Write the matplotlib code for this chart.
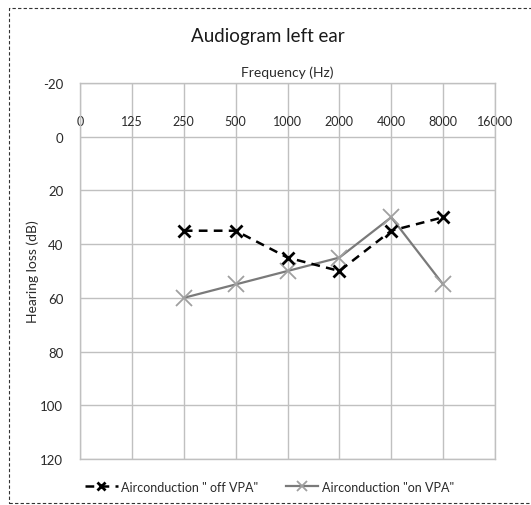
import matplotlib
matplotlib.use("Agg")
import matplotlib.pyplot as plt
from matplotlib.patches import Rectangle

plt.rcParams['font.family'] = ['Lato', 'DejaVu Sans']

# frequency categories on the audiogram
freq_labels = ['0', '125', '250', '500', '1000', '2000', '4000', '8000', '16000']

# measured points
meas_freqs = ['250', '500', '1000', '2000', '4000', '8000']
off_vpa = [35, 35, 45, 50, 35, 30]
on_vpa = [60, 55, 50, 45, 30, 55]

y_ticks = [-20, 0, 20, 40, 60, 80, 100, 120]

fig = plt.figure(figsize=(5.31, 5.06), dpi=100)
ax = fig.add_axes([0.1507, 0.0909, 0.7815, 0.7431])

xpos = [freq_labels.index(f) for f in meas_freqs]

ax.plot(xpos, off_vpa, color='black', linestyle=(0, (3.5, 2.5)), linewidth=1.8,
        marker='x', markersize=9, markeredgewidth=2, label='Airconduction " off VPA"', zorder=4)
ax.plot(xpos, on_vpa, color='#7a7a7a', linestyle='-', linewidth=1.6,
        marker='x', markersize=12, markeredgecolor='#a0a0a0', markeredgewidth=1.3,
        label='Airconduction "on VPA"', zorder=3)

ax.set_xlim(0, len(freq_labels) - 1)
ax.set_ylim(120, -20)
ax.set_yticks(y_ticks)
ax.set_yticklabels([str(v) for v in y_ticks], fontsize=9.5, color='#2a2a2a')
ax.set_xticks(range(len(freq_labels)))
ax.set_xticklabels(freq_labels, fontsize=9, color='#2a2a2a')
ax.xaxis.tick_top()
ax.tick_params(axis='x', length=0, pad=-32)
ax.tick_params(axis='y', length=0, pad=12)

ax.grid(True, color='#c0c0c0', linewidth=1)
ax.set_axisbelow(True)
for s in ax.spines.values():
    s.set_color('#c0c0c0')
    s.set_linewidth(1)

ax.set_ylabel('Hearing loss (dB)', fontsize=10, color='#2a2a2a')
ax.yaxis.set_label_coords(-0.098, 0.5)
ax.text(0.5, 1.012, 'Frequency (Hz)', transform=ax.transAxes, ha='center', va='bottom',
        fontsize=10, color='#2a2a2a')
fig.text(0.505, 0.927, 'Audiogram left ear', ha='center', va='center', fontsize=13.5, color='#1a1a1a')

fig.legend(loc='center', bbox_to_anchor=(0.508, 0.036), ncol=2, frameon=False,
           fontsize=9, handlelength=2.6, columnspacing=2.2, handletextpad=0.3,
           markerscale=0.6, labelcolor='#2a2a2a')

# dashed frame around the chart
fig.patches.append(Rectangle((0.017, 0.004), 1.2, 0.978, transform=fig.transFigure,
                             fill=False, linestyle=(0, (3, 2)), linewidth=0.8,
                             edgecolor='#333333'))

fig.savefig('out.png', dpi=100)
